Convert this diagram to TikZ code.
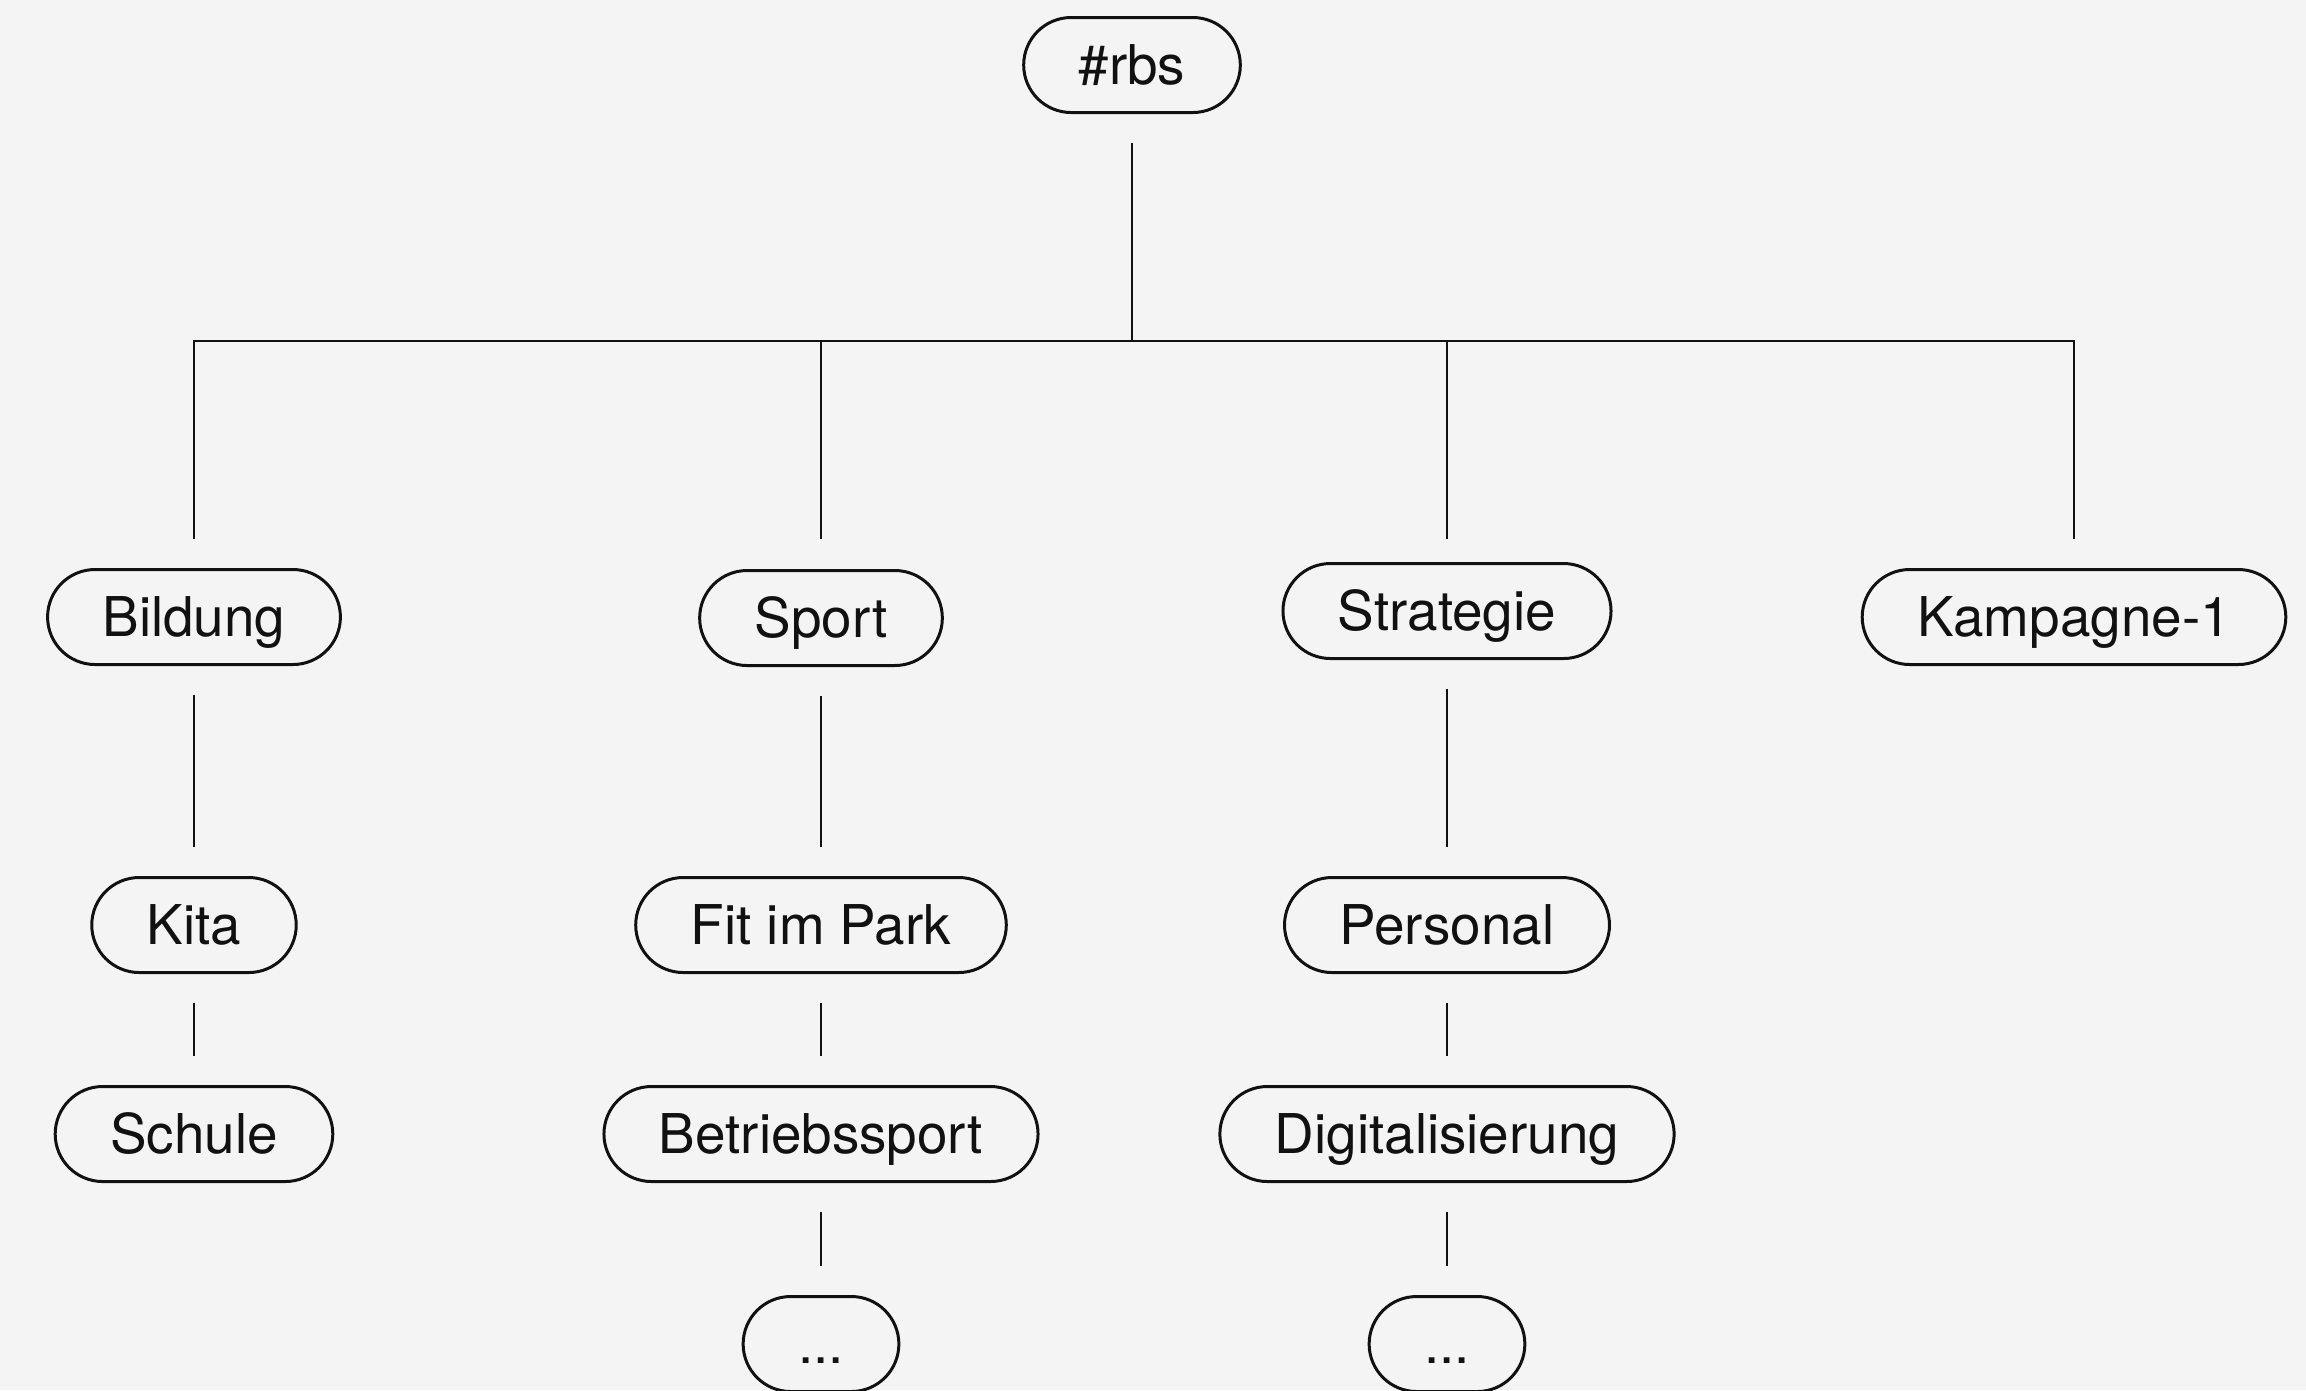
\documentclass[tikz,border=0pt]{standalone}
\usepackage{fontspec}
\setmainfont{TeX Gyre Heros}
\usepackage{xcolor}
\usetikzlibrary{positioning}
\definecolor{paper}{HTML}{F4F4F4}
\definecolor{ink}{HTML}{111111}
\tikzset{
  tag/.style={draw=ink, line width=0.85pt, rounded corners=0.475cm, minimum height=0.95cm,
    inner xsep=0.55cm, inner ysep=0pt, text height=11.2pt, text depth=0pt,
    font=\fontsize{15.6}{18}\selectfont, text=ink},
  link/.style={draw=ink, line width=0.6pt, shorten <=0.29cm, shorten >=0.29cm}
}

\begin{document}
\begin{tikzpicture}
\fill[paper] (0,0) rectangle (23.06,-13.90);
\useasboundingbox (0,0) rectangle (23.06,-13.90);
\node[tag] (rbs) at (11.32,-0.65) {\#rbs};
\coordinate (bus) at (11.32,-3.41);
\foreach \n/\x/\y/\label in {bildung/1.94/-6.17/Bildung, sport/8.21/-6.18/Sport,
    strategie/14.47/-6.11/Strategie, kampagne/20.74/-6.17/Kampagne-1,
    kita/1.94/-9.25/Kita, fit/8.21/-9.25/Fit im Park, personal/14.47/-9.25/Personal,
    schule/1.94/-11.34/Schule, betrieb/8.21/-11.34/Betriebssport, digital/14.47/-11.34/Digitalisierung} {
  \node[tag] (\n) at (\x,\y) {\label};
}
\node[tag] (more1) at (8.21,-13.44) {...};
\node[tag] (more2) at (14.47,-13.44) {...};
% first level hangs on the bus line
\foreach \c in {bildung, sport, strategie, kampagne} {
  \draw[link] (rbs.south) -- (bus) -| (\c.north |- bildung.north);
}
% columns below
\foreach \a/\b in {bildung/kita, kita/schule, sport/fit, fit/betrieb, betrieb/more1,
    strategie/personal, personal/digital, digital/more2} {
  \draw[link] (\a.south) -- (\b.north);
}
\end{tikzpicture}
\end{document}
